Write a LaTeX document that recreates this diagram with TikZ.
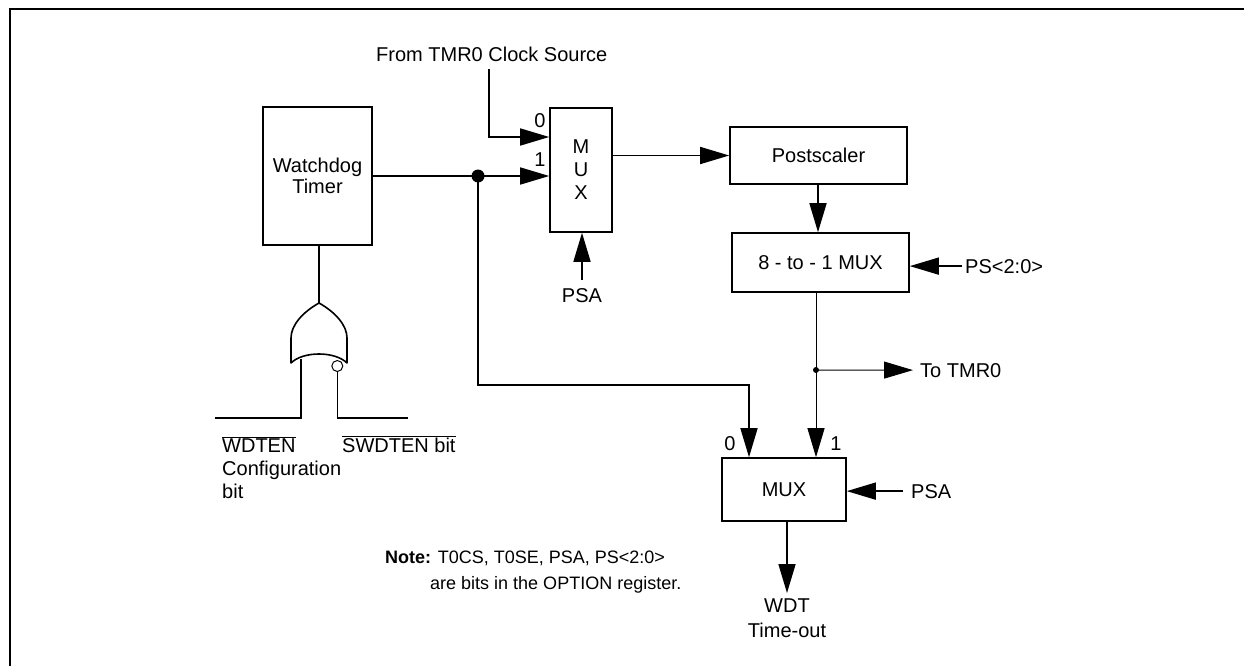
\documentclass[tikz,border=0pt]{standalone}
\usepackage{fontspec}
\setmainfont{Liberation Sans}
\usetikzlibrary{arrows.meta,calc}
\newcommand\ovl[1]{$\overline{\hbox{#1}}$}
\begin{document}
\begin{tikzpicture}[x=1pt,y=-1pt,
  every node/.style={font=\fontsize{20}{24}\selectfont},
  box/.style={draw,line width=1.6pt,inner sep=0pt,align=center},
  lbl/.style={inner sep=0pt},
  notelbl/.style={inner sep=0pt,font=\fontsize{18}{22}\selectfont},
  wire/.style={line width=1.6pt},
  thinwire/.style={line width=1pt},
  arr/.style={line width=1.6pt,-{Triangle[length=29pt,width=17pt]}},
  thinarr/.style={line width=1pt,-{Triangle[length=29pt,width=17pt]}}]
\useasboundingbox (0,0) rectangle (1244,666);
% frame
\draw[line width=2pt] (10,700) -- (10,9.5) -- (1260,9.5);
% blocks
\node[box,minimum width=109pt,minimum height=138pt,font=\fontsize{20}{21}\selectfont] (wdt) at (317.5,176) {Watchdog\\Timer};
\node[box,minimum width=62pt,minimum height=124pt,font=\fontsize{20}{23}\selectfont] (mux1) at (581,170) {M\\U\\X};
\node[box,minimum width=177pt,minimum height=57pt] (post) at (818.5,155.5) {Postscaler};
\node[box,minimum width=177pt,minimum height=59pt] (mux8) at (820.5,262.5) {8 - to - 1 MUX};
\node[box,minimum width=124pt,minimum height=63pt] (mux2) at (784,489.5) {MUX};
% labels
\node[lbl,anchor=base west] (src) at (376,62) {From TMR0 Clock Source};
\node[lbl,anchor=base] (l0a) at (540,128) {0};
\node[lbl,anchor=base] (l1a) at (540,166) {1};
\node[lbl,anchor=base] (psa1) at (582,302) {PSA};
\node[lbl,anchor=base west] (ps) at (965,273) {PS<2:0>};
\node[lbl,anchor=base west] (totmr) at (920,377) {To TMR0};
\node[lbl,anchor=base] (l0b) at (730,450) {0};
\node[lbl,anchor=base] (l1b) at (836,450) {1};
\node[lbl,anchor=base west] (psa2) at (911,498) {PSA};
\node[lbl,anchor=base] (wdtlbl) at (787,612) {WDT};
\node[lbl,anchor=base] (tolbl) at (787,637) {Time-out};
\node[lbl,anchor=base west] (wdten) at (222,452) {\ovl{WDTEN}};
\node[lbl,anchor=base west] (cfg) at (222,475) {Configuration};
\node[lbl,anchor=base west] (cbit) at (222,498) {bit};
\node[lbl,anchor=base west] (swdten) at (342,452) {\ovl{SWDTEN bit}};
\node[notelbl,anchor=base west] (note1) at (385,563) {\textbf{Note:} T0CS, T0SE, PSA, PS<2:0>};
\node[notelbl,anchor=base west] (note2) at (430,589) {are bits in the OPTION register.};
% coordinates
\coordinate (dot) at (478,176);
\coordinate (srctop) at (489,69);
\coordinate (dot2) at (816,370);
\coordinate (x0) at (749,385);
\coordinate (gout) at (319,303);
% connectors
\draw[wire] (wdt.east |- dot) -- (dot);
\draw[arr] (dot) -- (dot -| mux1.west);
\draw[arr] (srctop) |- (mux1.west |- 0,137);
\draw[arr] ([yshift=8pt]psa1.north) -- (psa1.north |- mux1.south);
\draw[arr] (mux1.east |- 0,155.5) -- (post.west);
\draw[arr] (post.south -| 818,0) -- (mux8.north -| 818,0);
\draw[arr] ([xshift=-3pt]ps.west) -- (ps.west -| mux8.east);
\draw[thinwire] (mux8.south -| dot2) -- (dot2);
\draw[thinarr] (dot2) -- (dot2 |- mux2.north);
\draw[thinarr] (dot2) -- ([xshift=-7pt]totmr.west);
\draw[arr] (dot) |- (x0) -- (x0 |- mux2.north);
\draw[arr] ([xshift=-8pt]psa2.west) -- (psa2.west -| mux2.east);
\draw[arr] (mux2.south -| wdtlbl) -- ([yshift=5pt]wdtlbl.north);
\fill (dot) circle (6.5pt);
\fill (dot2) circle (3pt);
% OR gate
\draw[wire] (wdt.south -| gout) -- (gout);
\draw[wire,line join=round] (gout) .. controls (335,312) and (347,325) .. (347,338) -- (347,363)
  .. controls (335,351) and (303,351) .. (291,363) -- (291,338)
  .. controls (291,325) and (303,312) .. (gout) -- cycle;
\draw[line width=1pt] (337.3,366) circle (5.5pt);
\coordinate (inL) at (301,359);
\coordinate (inR) at (337.3,371.5);
\draw[wire] (inL) -- (301,418) -- (215,418);
\draw[wire] (inR) -- (337.3,418) -- (408,418);
\end{tikzpicture}
\end{document}
